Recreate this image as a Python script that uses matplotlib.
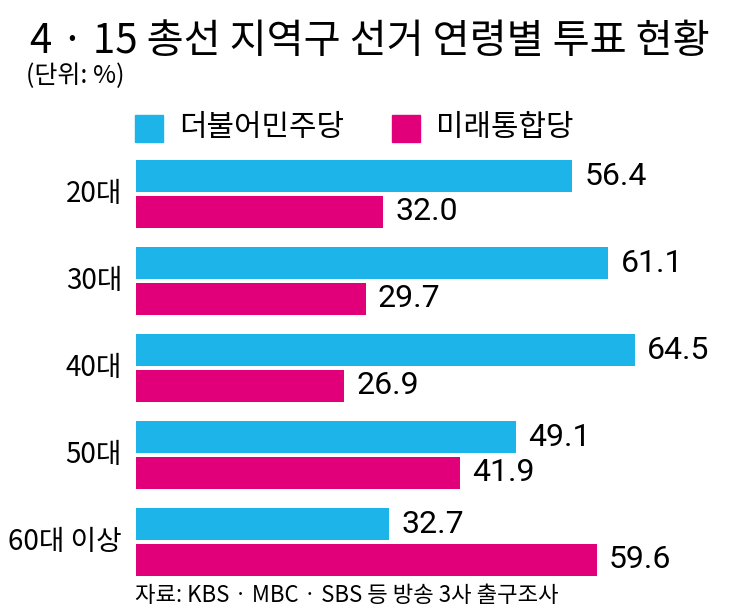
import matplotlib
matplotlib.use("Agg")
import matplotlib.pyplot as plt
from matplotlib.patches import Rectangle

plt.rcParams['font.family'] = ['Noto Sans CJK KR', 'DejaVu Sans']

# data
ages = ["20대", "30대", "40대", "50대", "60대 이상"]
minjoo = [56.4, 61.1, 64.5, 49.1, 32.7]
tonghap = [32.0, 29.7, 26.9, 41.9, 59.6]
parties = ["더불어민주당", "미래통합당"]

blue = "#1db4ea"
pink = "#e2007a"

W, H = 743, 607
fig = plt.figure(figsize=(W / 100, H / 100), dpi=100)

# axes placed in pixel terms: left edge at x=136, top at y=150, bottom at y=585
ax = fig.add_axes([136 / W, 1 - 585 / H, 1 - 136 / W, 435 / H])
ax.set_xlim(0, (W - 136) / 7.73)
ax.set_ylim(4.494, -0.506)
ax.axis("off")

h = 0.37
off = 0.205
for i, age in enumerate(ages):
    ax.barh(i - off, minjoo[i], height=h, color=blue)
    ax.barh(i + off, tonghap[i], height=h, color=pink)
    ax.text(minjoo[i] + 1.6, i - off, f"{minjoo[i]:.1f}", va="center", ha="left",
            fontsize=23, family=["Roboto", "DejaVu Sans"])
    ax.text(tonghap[i] + 1.6, i + off, f"{tonghap[i]:.1f}", va="center", ha="left",
            fontsize=23, family=["Roboto", "DejaVu Sans"])
    ax.text(-1.8, i, age, va="center", ha="right", fontsize=20)

# title and unit
fig.text(30 / W, 1 - 42 / H, "4 · 15 총선 지역구 선거 연령별 투표 현황",
         fontsize=29, fontweight="medium", va="center", ha="left")
fig.text(26 / W, 1 - 76 / H, "(단위: %)", fontsize=18, va="center", ha="left")

# legend
for x0, col, name in [(135, blue, parties[0]), (392, pink, parties[1])]:
    fig.patches.append(Rectangle((x0 / W, 1 - 142 / H), 28 / W, 27 / H,
                                 transform=fig.transFigure, color=col))
    fig.text((x0 + 44) / W, 1 - 127 / H, name, fontsize=21.5, va="center", ha="left")

# source
fig.text(135 / W, 1 - 596 / H, "자료: KBS · MBC · SBS 등 방송 3사 출구조사",
         fontsize=16, va="center", ha="left")

fig.savefig("out.png", dpi=100)
